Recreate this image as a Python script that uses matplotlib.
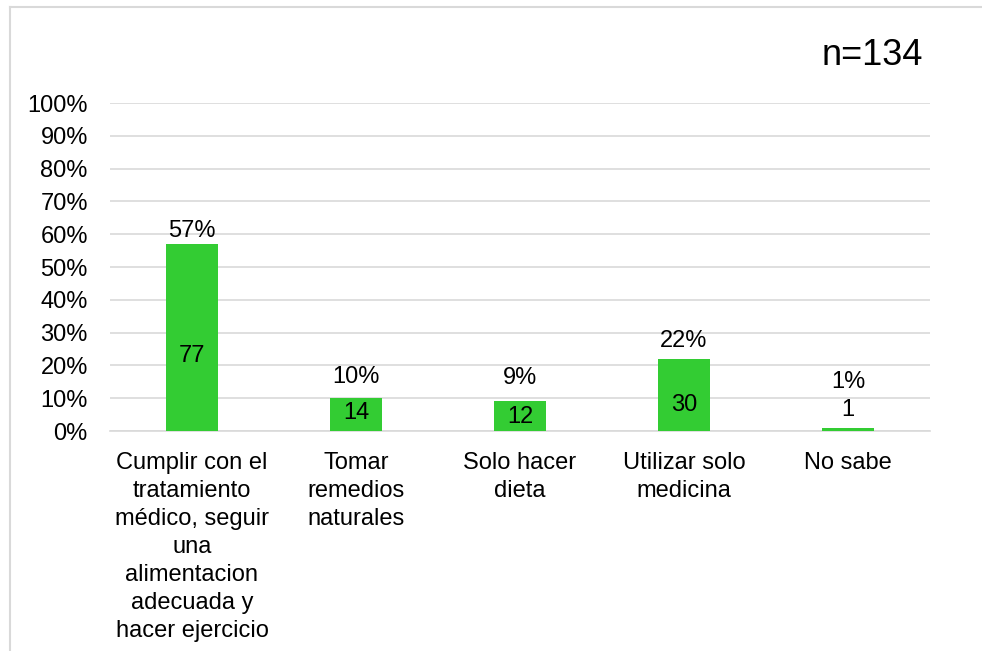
import matplotlib
matplotlib.use("Agg")
import matplotlib.pyplot as plt
from matplotlib.lines import Line2D

plt.rcParams['font.family'] = ['Liberation Sans', 'DejaVu Sans']

categorias = ["Cumplir con el\ntratamiento\nmédico, seguir\nuna\nalimentacion\nadecuada y\nhacer ejercicio",
              "Tomar\nremedios\nnaturales",
              "Solo hacer\ndieta",
              "Utilizar solo\nmedicina",
              "No sabe"]
frecuencia = [77, 14, 12, 30, 1]
porcentaje = [57, 10, 9, 22, 1]
n_total = 134

# alturas (en %) donde se colocan las etiquetas
y_etiqueta_pct = [61.0, 16.5, 16.2, 27.4, 14.9]
y_etiqueta_n = [23.0, 5.5, 4.3, 7.9, 6.4]

verde = '#33CC33'
gris = '#D9D9D9'

fig = plt.figure(figsize=(9.82, 6.51), dpi=100)
ax = fig.add_axes([110/982, 1-431/651, 820/982, 328/651])

x = range(len(categorias))
ax.bar(x, porcentaje, width=0.32, color=verde, zorder=3)

for i in x:
    ax.text(i, y_etiqueta_pct[i], f"{porcentaje[i]}%", ha='center', va='center', fontsize=17, zorder=4)
    ax.text(i, y_etiqueta_n[i], str(frecuencia[i]), ha='center', va='center', fontsize=17, zorder=4)

ax.set_xlim(-0.5, len(categorias) - 0.5)
ax.set_ylim(0, 100)
ax.set_yticks(range(0, 101, 10))
ax.set_yticklabels([f"{v}%" for v in range(0, 101, 10)], fontsize=17)
ax.set_xticks(list(x))
ax.set_xticklabels(categorias, fontsize=17, linespacing=1.35)
ax.tick_params(axis='both', length=0)
ax.tick_params(axis='y', pad=16)
ax.tick_params(axis='x', pad=15)

ax.grid(axis='y', color=gris, linewidth=1.2, zorder=0)
for s in ['top', 'right', 'left']:
    ax.spines[s].set_visible(False)
ax.spines['bottom'].set_color(gris)
ax.spines['bottom'].set_linewidth(1.2)
ax.spines['bottom'].set_zorder(2)

fig.text(923/982, 1-65/651, f"n={n_total}", ha='right', va='baseline', fontsize=26)

# marco del gráfico
fig.add_artist(Line2D([10/982, 10/982], [0, 1-7/651], color=gris, linewidth=1.5))
fig.add_artist(Line2D([10/982, 1], [1-7/651, 1-7/651], color=gris, linewidth=1.5))

fig.savefig("out.png", dpi=100)
